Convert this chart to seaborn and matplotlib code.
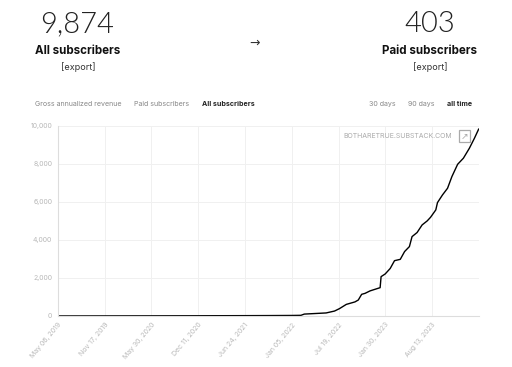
import matplotlib
matplotlib.use("Agg")
import matplotlib.pyplot as plt
import seaborn as sns
import pandas as pd

dates = ["2019-05-06", "2019-11-17", "2020-05-30", "2020-12-11", "2021-06-24",
         "2021-10-01", "2022-01-05", "2022-02-12", "2022-02-26", "2022-05-28",
         "2022-07-02", "2022-07-23", "2022-08-20", "2022-09-25", "2022-10-09",
         "2022-10-23", "2022-11-06", "2022-11-27", "2023-01-08", "2023-01-12",
         "2023-01-29", "2023-02-19", "2023-03-09", "2023-04-02", "2023-04-20",
         "2023-05-10", "2023-05-21", "2023-06-11", "2023-07-02", "2023-07-23",
         "2023-08-06", "2023-08-28", "2023-09-04", "2023-09-25", "2023-10-16",
         "2023-11-03", "2023-11-27", "2023-12-21", "2024-01-15", "2024-02-05",
         "2024-02-23"]
subscribers = [2, 5, 8, 12, 18, 22, 28, 35, 100, 160,
               260, 390, 610, 740, 840, 1140, 1190, 1320, 1490, 2070,
               2210, 2500, 2910, 2980, 3390, 3650, 4175, 4390, 4790, 5000,
               5190, 5580, 5965, 6370, 6720, 7330, 7980, 8300, 8825, 9350,
               9840]
tick_dates = ["2019-05-06", "2019-11-17", "2020-05-30", "2020-12-11", "2021-06-24",
              "2022-01-05", "2022-07-19", "2023-01-30", "2023-08-13"]
tick_labels = ["May 06, 2019", "Nov 17, 2019", "May 30, 2020", "Dec 11, 2020",
               "Jun 24, 2021", "Jan 05, 2022", "Jul 19, 2022", "Jan 30, 2023",
               "Aug 13, 2023"]
y_ticks = [0, 2000, 4000, 6000, 8000, 10000]

sns.set_theme(style="white")
plt.rcParams['font.family'] = ['Inter', 'DejaVu Sans']

df = pd.DataFrame({"date": pd.to_datetime(dates), "subs": subscribers})

fig = plt.figure(figsize=(5.12, 3.67), dpi=100)
ax = fig.add_axes([0.113, 0.139, 0.823, 0.518])
sns.lineplot(data=df, x="date", y="subs", ax=ax, color="black", linewidth=1.0)

ax.set_xlim(pd.Timestamp("2019-05-06"), pd.Timestamp("2024-02-25"))
ax.set_ylim(0, 10000)
ax.set_xticks(pd.to_datetime(tick_dates))
ax.set_xticklabels(tick_labels, rotation=50, ha="right", rotation_mode="anchor")
ax.set_yticks(y_ticks)
ax.set_yticklabels([f"{v:,}" for v in y_ticks])
ax.tick_params(axis="both", labelsize=5, colors="#b8b8b8", length=0, pad=4)
ax.set_xlabel("")
ax.set_ylabel("")
ax.grid(True, color="#f0f0f0", linewidth=0.7)
for s in ["top", "right"]:
    ax.spines[s].set_visible(False)
ax.spines["left"].set_color("#dddddd")
ax.spines["left"].set_linewidth(0.8)
ax.spines["bottom"].set_color("#dddddd")
ax.spines["bottom"].set_linewidth(0.8)
ax.set_axisbelow(True)

ax.text(0.935, 0.945, "BOTHARETRUE.SUBSTACK.COM", transform=ax.transAxes,
        ha="right", va="center", fontsize=5, color="#aaaaaa")
ax.text(0.965, 0.945, "↗", transform=ax.transAxes, ha="center", va="center",
        fontsize=6.5, color="#aaaaaa", family=["DejaVu Sans"],
        bbox=dict(boxstyle="square,pad=0.15", fc="none", ec="#aaaaaa", lw=0.9))

# Header
fig.text(77 / 512, 1 - 24 / 367, "9,874", ha="center", va="center",
         fontsize=21, fontweight=300, color="#222222", family=["Lato", "Inter"])
fig.text(78 / 512, 1 - 51 / 367, "All subscribers", ha="center", va="center",
         fontsize=8.3, fontweight="bold", color="#111111")
fig.text(78 / 512, 1 - 67 / 367, "[export]", ha="center", va="center",
         fontsize=6.5, color="#333333")
fig.text(255 / 512, 1 - 43 / 367, "→", ha="center", va="center",
         fontsize=9, color="#333333", family=["DejaVu Sans"])
fig.text(430 / 512, 1 - 24 / 367, "403", ha="center", va="center",
         fontsize=21, fontweight=300, color="#222222", family=["Lato", "Inter"])
fig.text(430 / 512, 1 - 51 / 367, "Paid subscribers", ha="center", va="center",
         fontsize=8.3, fontweight="bold", color="#111111")
fig.text(430 / 512, 1 - 67 / 367, "[export]", ha="center", va="center",
         fontsize=6.5, color="#333333")

fs = 5.1
fig.text(35 / 512, 1 - 104 / 367, "Gross annualized revenue", ha="left", va="center",
         fontsize=fs, color="#888888")
fig.text(134 / 512, 1 - 104 / 367, "Paid subscribers", ha="left", va="center",
         fontsize=fs, color="#888888")
fig.text(202 / 512, 1 - 104 / 367, "All subscribers", ha="left", va="center",
         fontsize=fs, fontweight="bold", color="#222222")
fig.text(369 / 512, 1 - 104 / 367, "30 days", ha="left", va="center",
         fontsize=fs, color="#888888")
fig.text(408 / 512, 1 - 104 / 367, "90 days", ha="left", va="center",
         fontsize=fs, color="#888888")
fig.text(447 / 512, 1 - 104 / 367, "all time", ha="left", va="center",
         fontsize=fs, fontweight="bold", color="#222222")

fig.savefig("out.png", dpi=100, facecolor="white")
